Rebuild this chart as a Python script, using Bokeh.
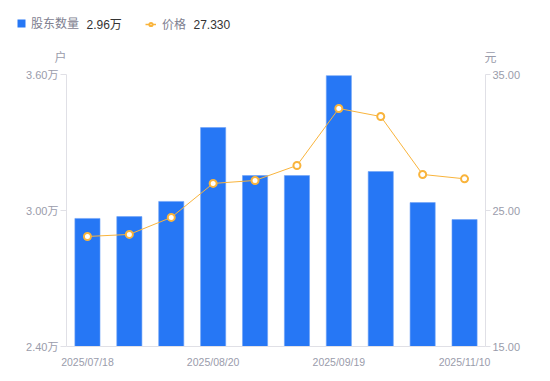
from bokeh.plotting import figure
from bokeh.layouts import column, row
from bokeh.models import (Range1d, LinearAxis, FixedTicker, CustomJSTickFormatter,
                          Label, Legend, LegendItem, NumeralTickFormatter)
from bokeh.embed import file_html
from bokeh.resources import INLINE

dates = ["2025/07/18", "2025/07/31", "2025/08/10", "2025/08/20", "2025/08/31",
         "2025/09/10", "2025/09/19", "2025/09/30", "2025/10/20", "2025/11/10"]
shown_idx = [0, 3, 6, 9]
holders = [29650, 29730, 30400, 33660, 31540, 31540, 35950, 31720, 30350, 29600]
prices = [23.09, 23.24, 24.49, 26.99, 27.21, 28.31, 32.50, 31.91, 27.65, 27.33]
left_ticks = [24000, 30000, 36000]
right_ticks = [15, 25, 35]
xs = list(range(len(dates)))

FONT = "Liberation Sans, Noto Sans CJK SC"
GRAY = "#9a9cab"
LEG_GRAY = "#7e8090"
BLUE = "#2677f5"
ORANGE = "#f9b43c"
W = 545

# ---------- main chart ----------
p = figure(width=W, height=311, x_range=Range1d(-0.5, 9.5), y_range=Range1d(24000, 36000),
           output_backend="svg", toolbar_location=None,
           min_border_left=66, min_border_right=60, min_border_top=10, min_border_bottom=29)
p.outline_line_color = None
p.xgrid.grid_line_color = None
p.ygrid.grid_line_color = None
p.extra_y_ranges = {"price": Range1d(15, 35)}

bars = p.vbar(x=xs, top=holders, bottom=24000, width=0.6, fill_color=BLUE,
              line_color="#6fa3f7", line_width=0.6)
line = p.line(x=xs, y=prices, y_range_name="price", line_color=ORANGE, line_width=1)
dots = p.scatter(x=xs, y=prices, y_range_name="price", size=7, fill_color="white",
                 line_color=ORANGE, line_width=2)

def style_axis(ax):
    ax.axis_line_color = "#e0e0e6"
    ax.major_tick_line_color = "#e0e0e6"
    ax.minor_tick_line_color = None
    ax.major_tick_out = 6
    ax.major_tick_in = 0
    ax.major_label_text_color = GRAY
    ax.major_label_text_font_size = "11px"
    ax.major_label_text_font = FONT

ya = p.yaxis[0]
style_axis(ya)
ya.ticker = FixedTicker(ticks=left_ticks)
ya.formatter = CustomJSTickFormatter(code="return (tick/10000).toFixed(2) + '万';")
ya.major_label_standoff = 2

ra = LinearAxis(y_range_name="price", ticker=FixedTicker(ticks=right_ticks),
                formatter=NumeralTickFormatter(format="0.00"))
style_axis(ra)
ra.major_tick_out = 5
ra.major_label_standoff = 2
p.add_layout(ra, "right")

xa = p.xaxis[0]
style_axis(xa)
xa.major_tick_line_color = None
xa.major_label_standoff = 3
xa.major_label_text_font_size = "10.5px"
xa.ticker = FixedTicker(ticks=shown_idx)
xa.major_label_overrides = {i: dates[i] for i in shown_idx}

# ---------- header (legend + unit titles) ----------
h = figure(width=W, height=64, x_range=Range1d(0, W), y_range=Range1d(64, 0),
           output_backend="svg", toolbar_location=None,
           min_border_left=0, min_border_right=0, min_border_top=0, min_border_bottom=0)
h.axis.visible = False
h.grid.visible = False
h.outline_line_color = None

# legend proxies (their data lie far outside the header's ranges, so only the legend shows them)
lb = h.vbar(x=[holders[-1]], top=[holders[-1]], bottom=holders[-1] - 1, width=1,
            fill_color=BLUE, line_color=None)
ll = h.line(x=[holders[0], holders[-1]], y=[holders[0], holders[-1]], line_color=ORANGE, line_width=1.5)
ls = h.scatter(x=[holders[-1]], y=[holders[-1]], size=7, fill_color="white",
               line_color=ORANGE, line_width=2)

common = dict(orientation="horizontal", padding=0, margin=0, spacing=0,
              background_fill_alpha=0, border_line_color=None,
              label_text_font_size="12px", label_text_color=LEG_GRAY, label_text_font=FONT)
leg1 = Legend(items=[LegendItem(label="股东数量", renderers=[lb])], location=(16, 33),
              glyph_width=10, glyph_height=10, label_standoff=5, **common)
leg2 = Legend(items=[LegendItem(label="价格", renderers=[ll, ls])], location=(145, 32),
              glyph_width=11, glyph_height=8, label_standoff=6, **common)
h.add_layout(leg1, "center")
h.add_layout(leg2, "center")

h.add_layout(Label(x=86, y=24, text="2.96万", text_color="#333333", text_font_size="12px",
                   text_font=FONT, text_baseline="middle"))
h.add_layout(Label(x=193, y=24, text="27.330", text_color="#333333", text_font_size="12px",
                   text_font=FONT, text_baseline="middle"))
h.add_layout(Label(x=60, y=57, text="户", text_align="center", text_baseline="middle",
                   text_color=GRAY, text_font_size="12px", text_font=FONT))
h.add_layout(Label(x=490, y=57, text="元", text_align="center", text_baseline="middle",
                   text_color=GRAY, text_font_size="12px", text_font=FONT))

layout = column(row(h), p, spacing=0)
open("out.html", "w").write(file_html(layout, INLINE))
